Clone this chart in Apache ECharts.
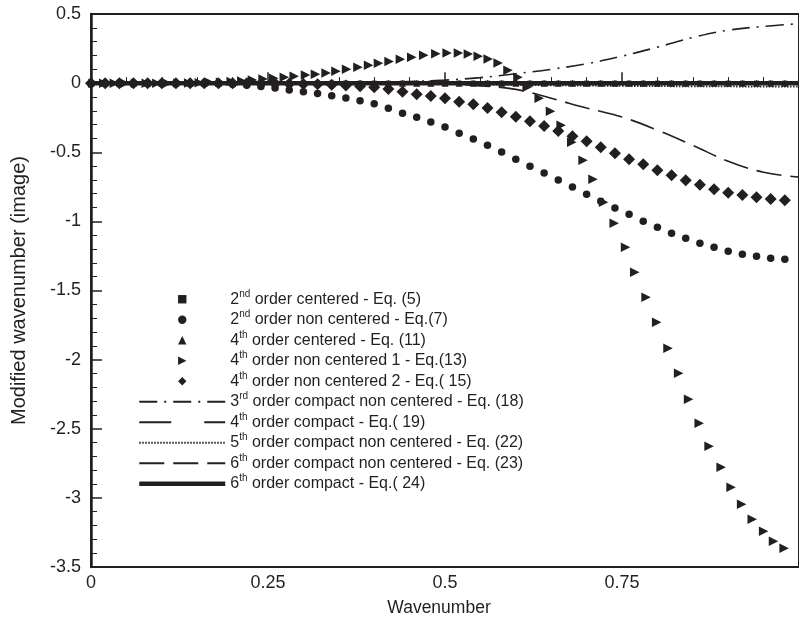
<!DOCTYPE html>
<html><head><meta charset="utf-8">
<script src="https://cdn.jsdelivr.net/npm/echarts@6/dist/echarts.min.js"></script>
<style>html,body{margin:0;padding:0;background:#fff}#c{width:799px;height:629px}</style>
</head><body><div id="c"></div>
<script>
// ---------- data ----------
const seriesNames = [
  '2nd order centered - Eq. (5)',
  '2nd order non centered - Eq.(7)',
  '4th order centered - Eq. (11)',
  '4th order non centered 1 - Eq.(13)',
  '4th order non centered 2 - Eq.( 15)',
  '3rd order compact non centered - Eq. (18)',
  '4th order compact - Eq.( 19)',
  '5th order compact non centered - Eq. (22)',
  '6th order compact non centered - Eq. (23)',
  '6th order compact - Eq.( 24)'
];
const xMarkers = [0,0.02,0.04,0.06,0.08,0.1,0.12,0.14,0.16,0.18,0.2,0.22,0.24,0.26,0.28,0.3,0.32,0.34,0.36,0.38,0.4,0.42,0.44,0.46,0.48,0.5,0.52,0.54,0.56,0.58,0.6,0.62,0.64,0.66,0.68,0.7,0.72,0.74,0.76,0.78,0.8,0.82,0.84,0.86,0.88,0.9,0.92,0.94,0.96,0.98];
const yCentered2 = [0,0,0,0,0,0,0,0,0,0,0,0,0,0,0,0,0,0,0,0,0,0,0,0,0,0,0,0,0,0,0,0,0,0,0,0,0,0,0,0,0,0,0,0,0,0,0,0,0,0];
const yNonCentered2 = [0,0,0,0,0,0,-0.001,-0.002,-0.003,-0.005,-0.008,-0.015,-0.025,-0.036,-0.05,-0.063,-0.075,-0.092,-0.108,-0.128,-0.15,-0.181,-0.217,-0.246,-0.282,-0.318,-0.362,-0.405,-0.449,-0.499,-0.55,-0.601,-0.65,-0.7,-0.752,-0.803,-0.854,-0.904,-0.948,-0.999,-1.042,-1.085,-1.122,-1.158,-1.187,-1.216,-1.237,-1.252,-1.266,-1.274];
const yCentered4 = [0,0,0,0,0,0,0,0,0,0,0,0,0,0,0,0,0,0,0,0,0,0,0,0,0,0,0,0,0,0,0,0,0,0,0,0,0,0,0,0,0,0,0,0,0,0,0,0,0,0];
const yNonCentered4b = [0,0,0,0,0,0,0,0,0,0,0,-0.001,-0.002,-0.003,-0.004,-0.006,-0.009,-0.012,-0.017,-0.022,-0.029,-0.043,-0.062,-0.08,-0.094,-0.109,-0.135,-0.152,-0.18,-0.21,-0.244,-0.275,-0.311,-0.347,-0.384,-0.42,-0.463,-0.507,-0.55,-0.586,-0.63,-0.666,-0.702,-0.735,-0.767,-0.793,-0.81,-0.825,-0.839,-0.847];
const xNonCentered4a = [0.003,0.018,0.033,0.048,0.063,0.078,0.093,0.108,0.123,0.138,0.153,0.168,0.183,0.198,0.213,0.228,0.243,0.258,0.273,0.287,0.303,0.317,0.332,0.346,0.361,0.377,0.392,0.406,0.421,0.437,0.453,0.47,0.487,0.503,0.519,0.533,0.547,0.561,0.575,0.589,0.603,0.616,0.633,0.649,0.664,0.679,0.695,0.709,0.724,0.739,0.755,0.768,0.784,0.799,0.815,0.83,0.844,0.859,0.873,0.89,0.904,0.919,0.934,0.95,0.964,0.979];
const yNonCentered4a = [0,0,0,0,0,0,0,0,0.001,0.001,0.002,0.004,0.007,0.011,0.016,0.022,0.029,0.036,0.043,0.05,0.058,0.065,0.073,0.086,0.1,0.115,0.13,0.143,0.156,0.172,0.188,0.202,0.212,0.217,0.217,0.21,0.195,0.174,0.145,0.094,0.043,-0.029,-0.109,-0.203,-0.304,-0.427,-0.557,-0.695,-0.861,-1.013,-1.187,-1.368,-1.548,-1.729,-1.917,-2.098,-2.287,-2.46,-2.627,-2.779,-2.923,-3.046,-3.155,-3.242,-3.314,-3.365];
const xLines = [0,0.05,0.1,0.15,0.2,0.25,0.3,0.35,0.4,0.45,0.5,0.55,0.6,0.65,0.7,0.75,0.8,0.85,0.9,0.95,1.0];
const yCompact3nc = [0,0,0,0,0,0,0.001,0.002,0.005,0.012,0.022,0.04,0.068,0.1,0.14,0.195,0.26,0.33,0.383,0.41,0.43];
const yCompact4 = [0,0,0,0,0,0,0,0,0,0,0,0,0,0,0,0,0,0,0,0,0];
const yCompact5nc = [0,0,0,0,0,0,0,0,0,-0.003,-0.006,-0.01,-0.013,-0.016,-0.018,-0.02,-0.022,-0.023,-0.024,-0.025,-0.025];
const yCompact6nc = [0,0,0,0,0,0,0,0,0,-0.001,-0.005,-0.02,-0.045,-0.11,-0.18,-0.245,-0.34,-0.45,-0.565,-0.645,-0.68];
const yCompact6 = [0,0,0,0,0,0,0,0,0,0,0,0,0,0,0,0,0,0,0,0,0];
const yTickLabels = ['-3.5','-3','-2.5','-2','-1.5','-1','-0.5','0','0.5'];
const xTickLabels = ['0','0.25','0.5','0.75'];

// ---------- chart ----------
const ink = '#231f20';
const font = 'Liberation Sans, Arial, Helvetica, sans-serif';
function pairs(xs, ys) { return xs.map((x, i) => [x, ys[i]]); }
const rightTri = 'path://M0,0 L10,5 L0,10 Z';

function markerSeries(name, xs, ys, symbol, size) {
  return {
    name, type: 'line', data: pairs(xs, ys), symbol, symbolSize: size,
    showAllSymbol: true, clip: false,
    lineStyle: { width: 0, color: ink }, itemStyle: { color: ink, borderWidth: 0 },
    emphasis: { disabled: true }, silent: true
  };
}
function lineSeries(name, ys, type, width) {
  return {
    name, type: 'line', data: pairs(xLines, ys), symbol: 'none', smooth: 0.4,
    lineStyle: { width, color: ink, type, cap: 'butt' }, itemStyle: { color: ink },
    emphasis: { disabled: true }, silent: true
  };
}

const series = [
  markerSeries(seriesNames[0], xMarkers, yCentered2, 'rect', 5),
  markerSeries(seriesNames[1], xMarkers, yNonCentered2, 'circle', 7.5),
  markerSeries(seriesNames[2], xMarkers, yCentered4, 'triangle', 7),
  markerSeries(seriesNames[3], xNonCentered4a, yNonCentered4a, rightTri, 9.5),
  markerSeries(seriesNames[4], xMarkers, yNonCentered4b, 'diamond', 12),
  lineSeries(seriesNames[5], yCompact3nc, [18, 7, 2, 7], 1.6),
  lineSeries(seriesNames[6], yCompact4, [32, 33], 1.6),
  lineSeries(seriesNames[7], yCompact5nc, [1.5, 1.5], 1.8),
  lineSeries(seriesNames[8], yCompact6nc, [25, 9], 1.6),
  lineSeries(seriesNames[9], yCompact6, 'solid', 4.5)
];

const lineWidths = [0, 0, 0, 0, 0, 1.8, 1.8, 2, 1.8, 4.5];
const legendData = seriesNames.map((n, i) => i < 5 ? { name: n }
  : { name: n, itemStyle: { opacity: 0 }, lineStyle: { width: lineWidths[i] } });

function fmt(name) {
  return name.replace(/^(\d)(nd|rd|th)/, '$1{s|$2}');
}

const chart = echarts.init(document.getElementById('c'), null, { renderer: 'canvas' });
chart.setOption({
  animation: false,
  backgroundColor: '#fff',
  grid: { left: 91, width: 718, top: 14, bottom: 62, show: true, borderColor: ink, borderWidth: 2, backgroundColor: 'transparent' },
  xAxis: {
    type: 'value', min: 0, max: 1, interval: 0.25,
    name: 'Wavenumber', nameLocation: 'middle', nameGap: 32,
    nameTextStyle: { fontSize: 17.5, color: ink, fontFamily: font, padding: [0, 12, 0, 0] },
    axisLine: { show: true, lineStyle: { color: ink, width: 2.5 } },
    axisTick: { show: true, inside: true, length: 11, lineStyle: { color: ink, width: 1.5 } },
    minorTick: { show: true, splitNumber: 5, length: 6, lineStyle: { color: ink, width: 1 } },
    splitLine: { show: false },
    axisLabel: { fontSize: 18, color: ink, fontFamily: font, margin: 7, showMaxLabel: false,
      formatter: v => { const i = Math.round(v / 0.25); return i < xTickLabels.length ? xTickLabels[i] : ''; } }
  },
  yAxis: {
    type: 'value', min: -3.5, max: 0.5, interval: 0.5,
    name: 'Modified wavenumber (image)', nameLocation: 'middle', nameGap: 62, nameRotate: 90,
    nameTextStyle: { fontSize: 20, color: ink, fontFamily: font },
    axisLine: { show: true, onZero: false, lineStyle: { color: ink, width: 2.5 } },
    axisTick: { show: true, inside: true, length: 11, lineStyle: { color: ink, width: 1.5 } },
    minorTick: { show: true, splitNumber: 5, length: 6, lineStyle: { color: ink, width: 1 } },
    splitLine: { show: false },
    axisLabel: { fontSize: 18, color: ink, fontFamily: font, margin: 10,
      formatter: v => yTickLabels[Math.round((v + 3.5) / 0.5)] }
  },
  legend: {
    orient: 'vertical', left: 137, top: 289, padding: 0, itemWidth: 86, itemHeight: 10.5, itemGap: 0,
    selectedMode: false, data: legendData, formatter: fmt,
    textStyle: { fontSize: 16, color: ink, fontFamily: font, lineHeight: 20.5,
      rich: { s: { fontSize: 10, lineHeight: 10, verticalAlign: 'top', color: ink, fontFamily: font } } }
  },
  series
});
</script></body></html>
